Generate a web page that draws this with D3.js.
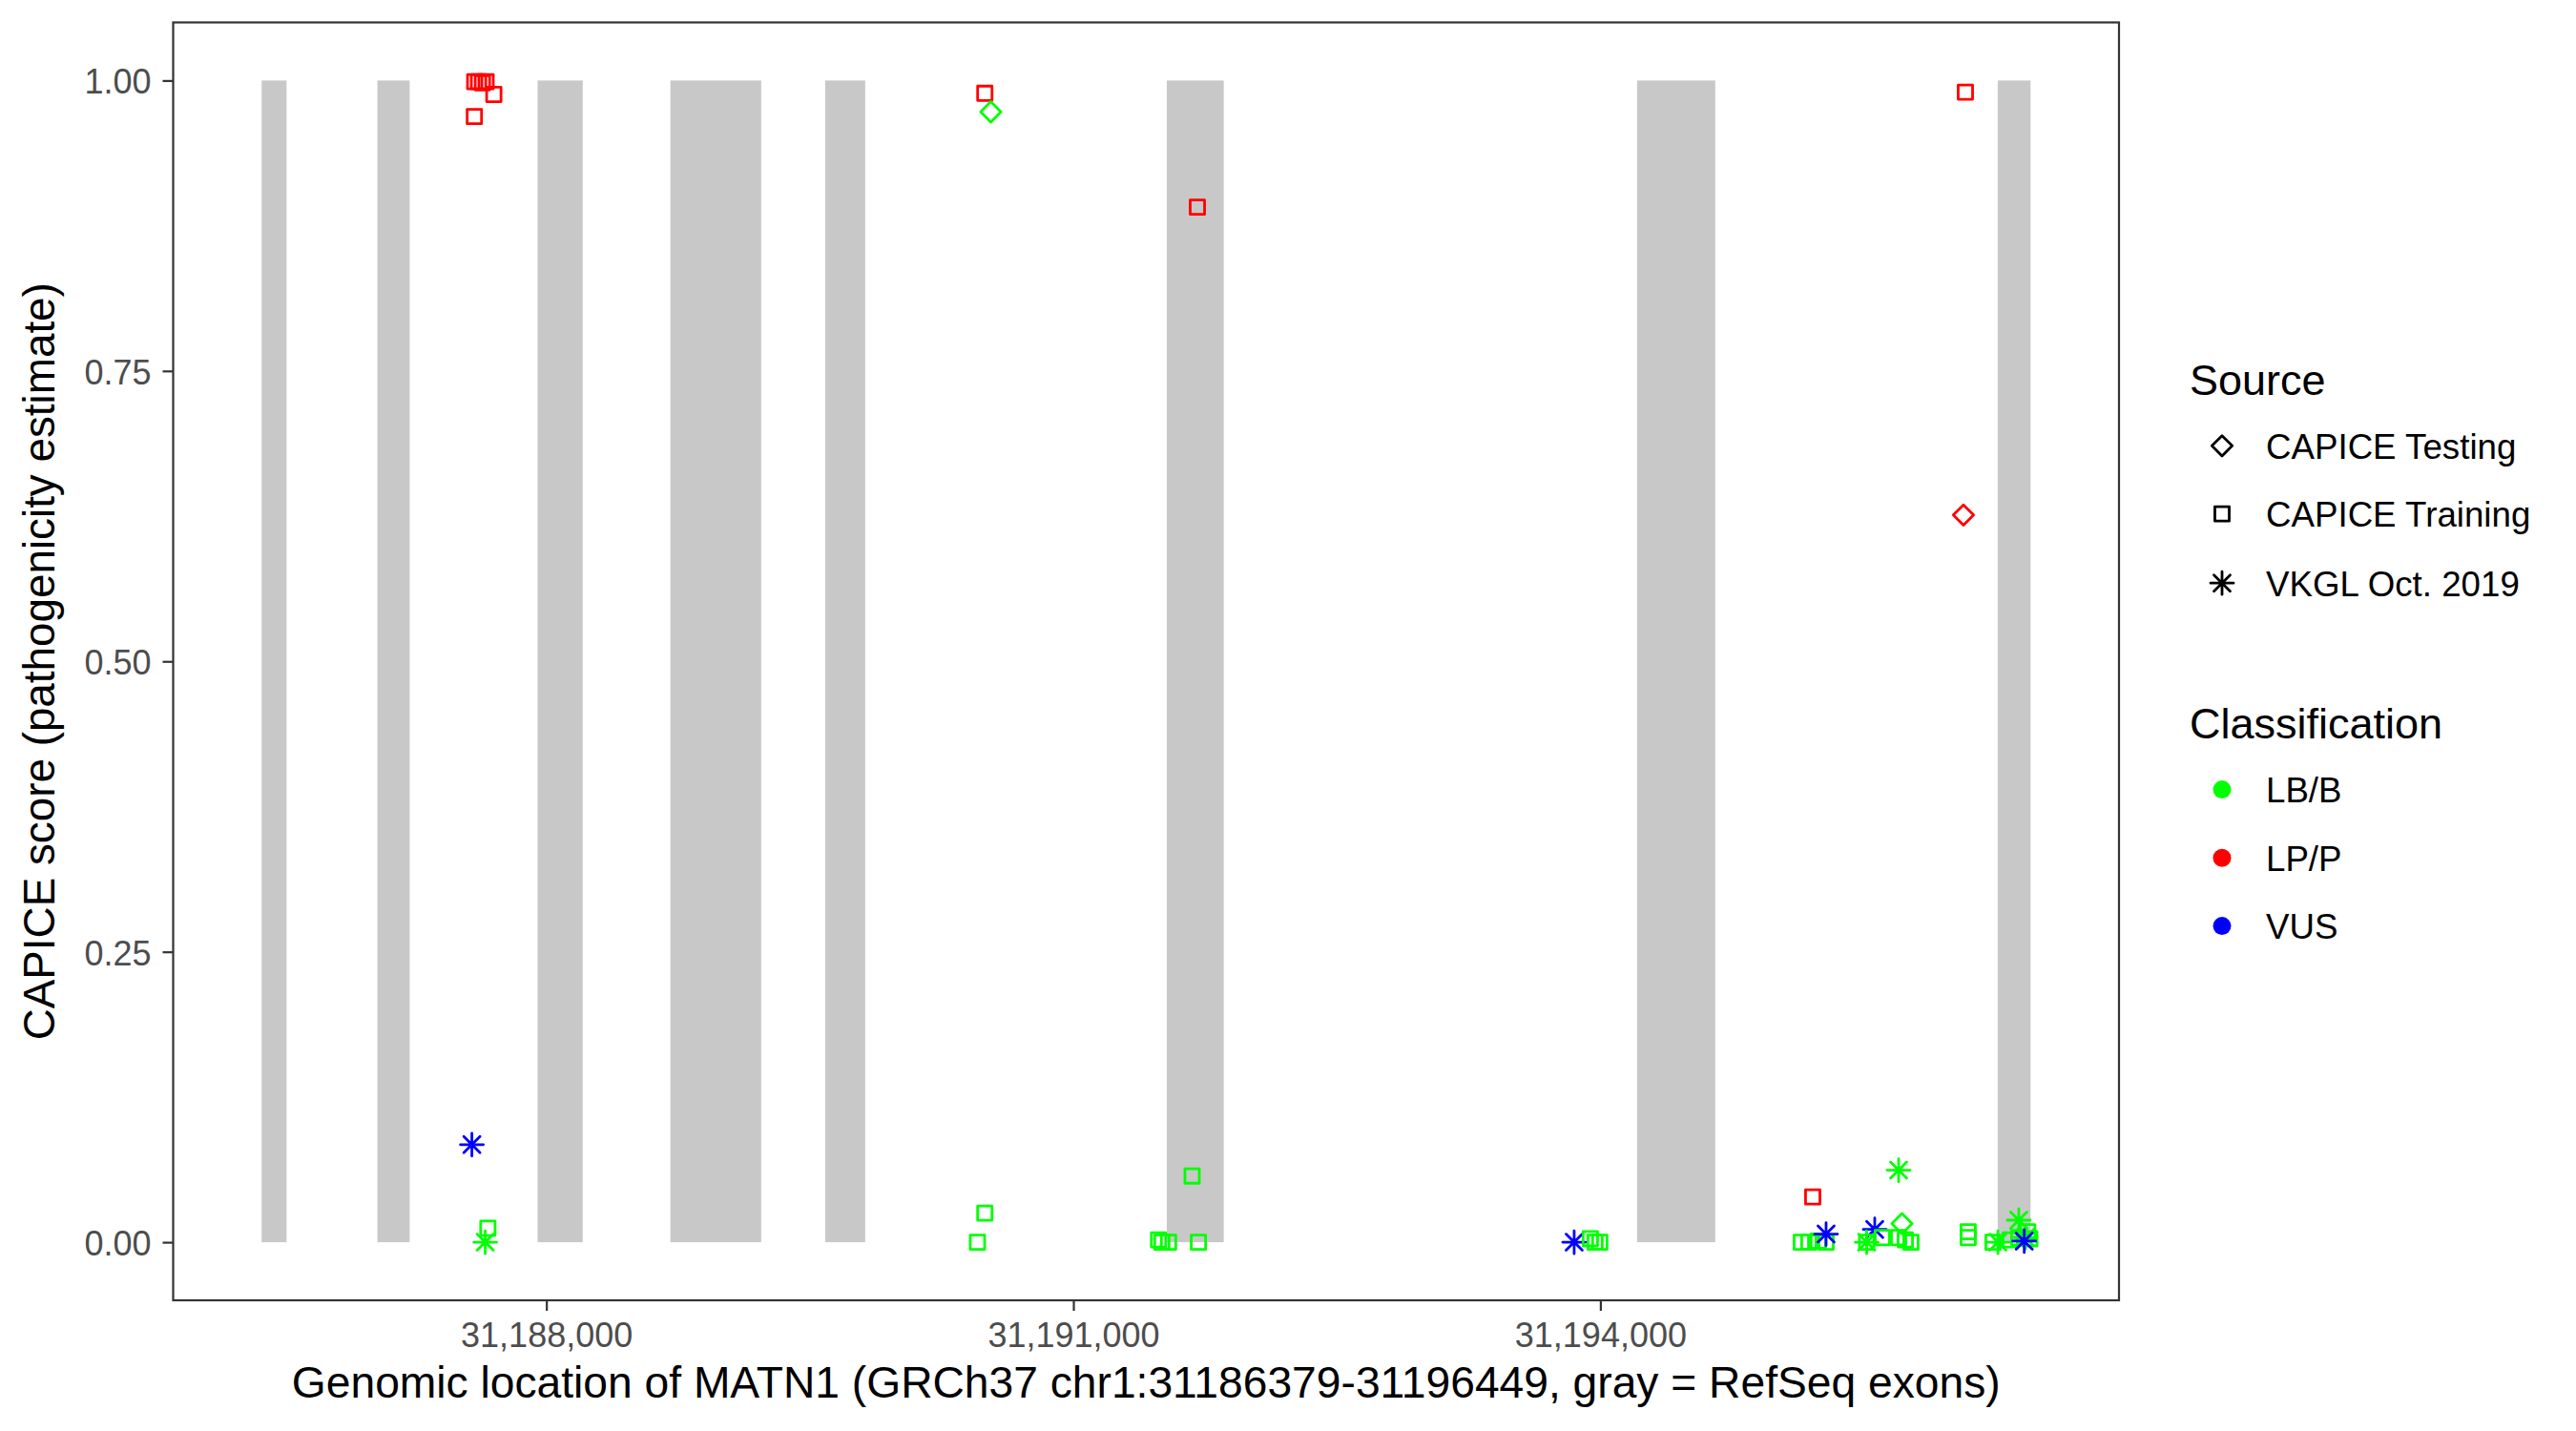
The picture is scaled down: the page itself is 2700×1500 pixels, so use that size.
<!DOCTYPE html>
<html><head><meta charset="utf-8">
<script src="https://cdn.jsdelivr.net/npm/d3@7"></script>
<style>
body{margin:0;background:#fff}
svg{display:block}
text{font-family:"Liberation Sans",Arial,Helvetica,sans-serif}
</style>
</head><body>
<svg id="chart" width="2700" height="1500"></svg>
<script>
// ---------------- data ----------------
const geneRange = [31186379, 31196449];
const exonStart = [31186379, 31187038, 31187950, 31188706, 31189587, 31191532, 31194209, 31196262];
const exonEnd   = [31186521, 31187222, 31188207, 31189223, 31189815, 31191856, 31194654, 31196449];

const variantPos = [
  31187592, 31187614, 31187636, 31187657, 31187701, 31187590, 31187576, 31187667, 31187652,
  31190496, 31190530, 31190454, 31190496,
  31191706, 31191676, 31191485, 31191504, 31191542, 31191712,
  31193851, 31193943, 31193970, 31193997,
  31195209, 31195144, 31195187, 31195241, 31195285, 31195285, 31195562, 31195516, 31195516,
  31195605, 31195698, 31195717, 31195736, 31195768, 31195698,
  31196078, 31196067, 31196094, 31196094, 31196235, 31196263, 31196333, 31196382, 31196382,
  31196433, 31196445, 31196420, 31196413
];
const variantScore = [
  0.999, 0.999, 0.998, 0.999, 0.988, 0.969, 0.084, 0.012, 0.000,
  0.989, 0.973, 0.000, 0.025,
  0.891, 0.057, 0.002, 0.000, 0.000, 0.000,
  0.000, 0.003, 0.000, 0.000,
  0.039, 0.000, 0.000, 0.001, 0.000, 0.007, 0.011, 0.000, 0.000,
  0.004, 0.004, 0.016, 0.002, 0.000, 0.062,
  0.990, 0.626, 0.009, 0.004, 0.000, 0.000, 0.002, 0.019, 0.004,
  0.009, 0.003, 0.004, 0.001
];
const variantSource = [
  "CAPICE Training","CAPICE Training","CAPICE Training","CAPICE Training","CAPICE Training","CAPICE Training","VKGL Oct. 2019","CAPICE Training","VKGL Oct. 2019",
  "CAPICE Training","CAPICE Testing","CAPICE Training","CAPICE Training",
  "CAPICE Training","CAPICE Training","CAPICE Training","CAPICE Training","CAPICE Training","CAPICE Training",
  "VKGL Oct. 2019","CAPICE Training","CAPICE Training","CAPICE Training",
  "CAPICE Training","CAPICE Training","CAPICE Training","CAPICE Training","CAPICE Training","VKGL Oct. 2019","VKGL Oct. 2019","CAPICE Training","VKGL Oct. 2019",
  "CAPICE Training","CAPICE Training","CAPICE Testing","CAPICE Training","CAPICE Training","VKGL Oct. 2019",
  "CAPICE Training","CAPICE Testing","CAPICE Training","CAPICE Training","CAPICE Training","VKGL Oct. 2019","CAPICE Training","VKGL Oct. 2019","CAPICE Training",
  "CAPICE Training","CAPICE Training","VKGL Oct. 2019","VKGL Oct. 2019"
];
const variantClass = [
  "LP/P","LP/P","LP/P","LP/P","LP/P","LP/P","VUS","LB/B","LB/B",
  "LP/P","LB/B","LB/B","LB/B",
  "LP/P","LB/B","LB/B","LB/B","LB/B","LB/B",
  "VUS","LB/B","LB/B","LB/B",
  "LP/P","LB/B","LB/B","LB/B","LB/B","VUS","VUS","LB/B","LB/B",
  "LB/B","LB/B","LB/B","LB/B","LB/B","LB/B",
  "LP/P","LP/P","LB/B","LB/B","LB/B","LB/B","LB/B","LB/B","LB/B",
  "LB/B","LB/B","LB/B","VUS"
];

const sourceLevels = ["CAPICE Testing", "CAPICE Training", "VKGL Oct. 2019"];
const classLevels  = ["LB/B", "LP/P", "VUS"];
const classColors  = ["#00ff00", "#ff0000", "#0000ff"];
const xTickValues  = [31188000, 31191000, 31194000];
const yTickValues  = [0, 0.25, 0.5, 0.75, 1];

const xTitle = "Genomic location of MATN1 (GRCh37 chr1:31186379-31196449, gray = RefSeq exons)";
const yTitle = "CAPICE score (pathogenicity estimate)";

// ---------------- layout ----------------
const panel = {left: 181.5, right: 2221, top: 23.5, bottom: 1363};
const svg = d3.select("#chart");

const span = geneRange[1] - geneRange[0];
const x = d3.scaleLinear()
  .domain([geneRange[0] - 0.05 * span, geneRange[1] + 0.05 * span])
  .range([panel.left, panel.right]);
const y = d3.scaleLinear()
  .domain([-0.05, 1.05])
  .range([panel.bottom, panel.top]);

const colorScale = d3.scaleOrdinal().domain(classLevels).range(classColors);

// shape generators (R pch 5, 0, 8)
const R = 8.5;
function shapePath(src) {
  if (src === "CAPICE Testing") {
    const h = R * 1.2533;
    return `M0,${-h}L${h},0L0,${h}L${-h},0Z`;
  } else if (src === "CAPICE Training") {
    const a = R * 0.8862;
    return `M${-a},${-a}L${a},${-a}L${a},${a}L${-a},${a}Z`;
  } else {
    const p = R * Math.SQRT2, d = R;
    return `M${-p},0L${p},0M0,${-p}L0,${p}M${-d},${-d}L${d},${d}M${-d},${d}L${d},${-d}`;
  }
}

// exons
svg.append("g").selectAll("rect")
  .data(exonStart.map((s, i) => ({s, e: exonEnd[i]})))
  .join("rect")
  .attr("x", d => x(d.s))
  .attr("width", d => x(d.e) - x(d.s))
  .attr("y", y(1))
  .attr("height", y(0) - y(1))
  .attr("fill", "#c8c8c8");

// points
const pts = variantPos.map((p, i) => ({p, s: variantScore[i], src: variantSource[i], cls: variantClass[i]}));
svg.append("g").selectAll("path")
  .data(pts)
  .join("path")
  .attr("transform", d => `translate(${x(d.p)},${y(d.s)})`)
  .attr("d", d => shapePath(d.src))
  .attr("fill", "none")
  .attr("stroke", d => colorScale(d.cls))
  .attr("stroke-width", 2.8)
  .attr("stroke-linecap", "round")
  .attr("stroke-linejoin", "round");

// panel border
svg.append("rect")
  .attr("x", panel.left).attr("y", panel.top)
  .attr("width", panel.right - panel.left).attr("height", panel.bottom - panel.top)
  .attr("fill", "none").attr("stroke", "#333333").attr("stroke-width", 2.2);

// axes
const fmtX = d3.format(",");
const xAxis = svg.append("g")
  .attr("transform", `translate(0,${panel.bottom})`)
  .call(d3.axisBottom(x).tickValues(xTickValues).tickFormat(fmtX).tickSize(11).tickPadding(12));
const yAxis = svg.append("g")
  .attr("transform", `translate(${panel.left},0)`)
  .call(d3.axisLeft(y).tickValues(yTickValues).tickFormat(d3.format(".2f")).tickSize(11).tickPadding(12));

[xAxis, yAxis].forEach(g => {
  g.select(".domain").remove();
  g.attr("font-family", null).attr("font-size", null);
  g.selectAll(".tick line").attr("stroke", "#333333").attr("stroke-width", 2.2);
  g.selectAll(".tick text").attr("fill", "#4d4d4d").style("font-size", "36px");
});
yAxis.selectAll(".tick text").attr("dy", "0.37em");

// axis titles
svg.append("text")
  .attr("x", (panel.left + panel.right) / 2).attr("y", 1465)
  .attr("text-anchor", "middle").style("font-size", "46.2px").attr("fill", "#000")
  .text(xTitle);
svg.append("text")
  .attr("transform", `translate(57,${(panel.top + panel.bottom) / 2}) rotate(-90)`)
  .attr("text-anchor", "middle").style("font-size", "45.8px").attr("fill", "#000")
  .text(yTitle);

// legends
const lg = svg.append("g");
lg.append("text").attr("x", 2295).attr("y", 414).style("font-size", "45px").text("Source");
const srcKeyY = [467.3, 538.6, 611.2];
sourceLevels.forEach((s, i) => {
  lg.append("path")
    .attr("transform", `translate(2329,${srcKeyY[i]})`)
    .attr("d", shapePath(s))
    .attr("fill", "none").attr("stroke", "#000").attr("stroke-width", 2.8)
    .attr("stroke-linecap", "round").attr("stroke-linejoin", "round");
  lg.append("text").attr("x", 2375).attr("y", srcKeyY[i] + 13.3)
    .style("font-size", "36.7px").text(s);
});
lg.append("text").attr("x", 2295).attr("y", 773.7).style("font-size", "45px").text("Classification");
const clsKeyY = [827.6, 899.3, 970.6];
classLevels.forEach((c, i) => {
  lg.append("circle").attr("cx", 2329).attr("cy", clsKeyY[i]).attr("r", 9.5)
    .attr("fill", colorScale(c));
  lg.append("text").attr("x", 2375).attr("y", clsKeyY[i] + 13.7)
    .style("font-size", "36.7px").text(c);
});
</script>
</body></html>
